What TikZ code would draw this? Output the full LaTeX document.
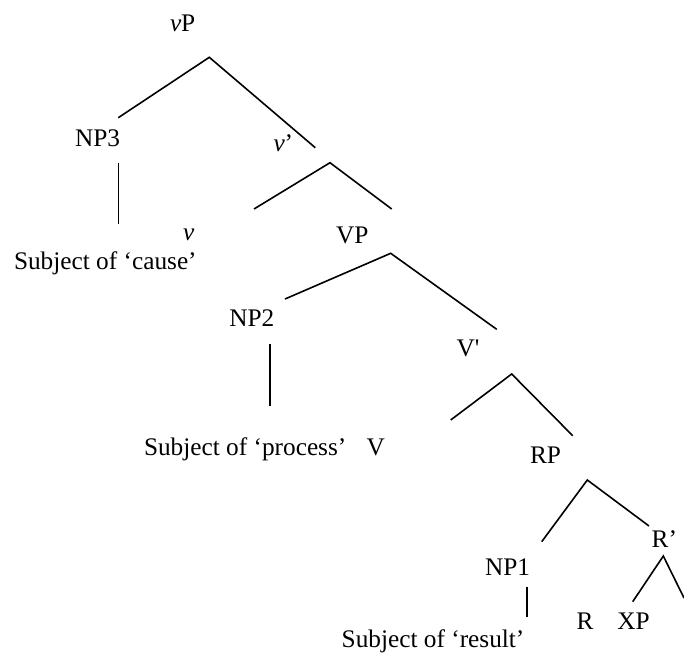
\documentclass[tikz,border=0pt]{standalone}
\usepackage{fontspec}
\setmainfont{Liberation Serif}
\begin{document}
\begin{tikzpicture}[x=1pt,y=-1pt,
  lbl/.style={anchor=base west,inner sep=0pt,outer sep=0pt,font=\fontsize{25.3}{30}\selectfont},
  br/.style={line width=1.6pt,line cap=butt}]
\useasboundingbox (0,0) rectangle (684,653);
% labels
\node[lbl] (vP)  at (170,31.7) {\textit{v}P};
\node[lbl] (NP3) at (75,146.7) {NP3};
\node[lbl] (vbar) at (273.5,151.7) {\textit{v}’};
\node[lbl] (v)   at (183,240) {\textit{v}};
\node[lbl] (subjc) at (14,269.3) {Subject of ‘cause’};
\node[lbl] (VP)  at (336,243.3) {VP};
\node[lbl] (NP2) at (229.3,326.7) {NP2};
\node[lbl] (Vbar) at (456.7,356) {V\textquotesingle};
\node[lbl] (subjp) at (144,455) {Subject of ‘process’};
\node[lbl] (V)   at (366.7,455) {V};
\node[lbl] (RP)  at (530,463.3) {RP};
\node[lbl] (Rbar) at (651.7,547.3) {R’};
\node[lbl] (NP1) at (485,575) {NP1};
\node[lbl] (R)   at (576.7,629.5) {R};
\node[lbl] (XP)  at (617.3,629.5) {XP};
\node[lbl] (subjr) at (341.7,647.3) {Subject of ‘result’};
% branch points
\coordinate (a1) at (209.3,57.3);
\coordinate (a1l) at (118.3,117.7);
\coordinate (a1r) at (315.3,147.7);
\coordinate (b1) at (118.3,162.7);
\coordinate (b1e) at (118.3,224);
\coordinate (a2) at (330,162.7);
\coordinate (a2l) at (254,209);
\coordinate (a2r) at (391.7,209);
\coordinate (a3) at (390.7,253.3);
\coordinate (a3l) at (285,299);
\coordinate (a3r) at (496.7,329.3);
\coordinate (b2) at (270,344);
\coordinate (b2e) at (270,405.7);
\coordinate (a4) at (511.7,374);
\coordinate (a4l) at (450.7,420);
\coordinate (a4r) at (572.7,435.7);
\coordinate (a5) at (587.3,480);
\coordinate (a5l) at (541.7,541.7);
\coordinate (a5r) at (649,526);
\coordinate (b3) at (526.7,586.7);
\coordinate (b3e) at (526.7,617.3);
\coordinate (a6) at (663.3,556);
\coordinate (a6l) at (632.7,601.7);
\coordinate (a6r) at (684,598);
% branches
\draw[br] (a1l) -- (a1) -- (a1r);
\draw[br] (b1) -- (b1e);
\draw[br] (a2l) -- (a2) -- (a2r);
\draw[br] (a3l) -- (a3) -- (a3r);
\draw[br] (b2) -- (b2e);
\draw[br] (a4l) -- (a4) -- (a4r);
\draw[br] (a5l) -- (a5) -- (a5r);
\draw[br] (b3) -- (b3e);
\draw[br] (a6l) -- (a6) -- (a6r);
\end{tikzpicture}
\end{document}
